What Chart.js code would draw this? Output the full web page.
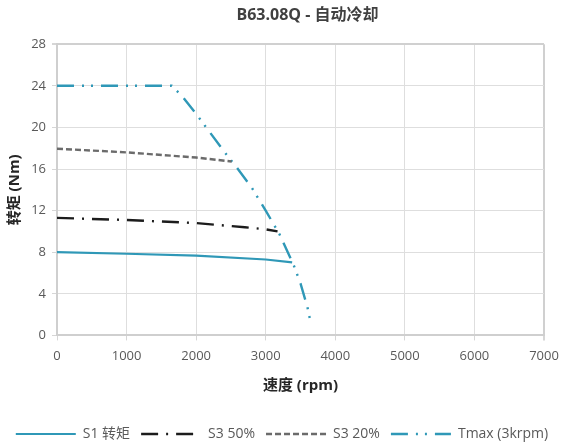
<!DOCTYPE html>
<html>
<head>
<meta charset="utf-8">
<script src="https://cdn.jsdelivr.net/npm/chart.js@4/dist/chart.umd.min.js"></script>
<style>
  html, body { margin: 0; padding: 0; background: #ffffff; }
  #wrap { width: 564px; height: 448px; }
</style>
</head>
<body>
<div id="wrap"><canvas id="c" width="564" height="448"></canvas></div>
<script>
// Speed (rpm) / torque (Nm) curves for the B63.08Q motor, self-cooled
const s1Speed    = [0, 1000, 2000, 3000, 3380];
const s1Torque   = [8.0, 7.85, 7.68, 7.3, 7.02];

const s350Speed  = [0, 1000, 2000, 2700, 3000, 3170];
const s350Torque = [11.3, 11.1, 10.8, 10.4, 10.2, 10.0];

const s320Speed  = [0, 1000, 2000, 2510];
const s320Torque = [17.95, 17.6, 17.1, 16.72];

const tmaxSpeed  = [0, 1000, 1650, 1800, 2000, 2200, 2400, 2600, 2800, 3000, 3200, 3400, 3500, 3600, 3650];
const tmaxTorque = [24, 24, 24, 23.0, 21.3, 19.5, 17.7, 16.0, 14.2, 12.0, 9.7, 6.8, 5.0, 2.7, 1.1];

const seriesNames = ['S1 转矩', 'S3 50%', 'S3 20%', 'Tmax (3krpm)'];
const xTicks = [0, 1000, 2000, 3000, 4000, 5000, 6000, 7000];
const yTicks = [0, 4, 8, 12, 16, 20, 24, 28];

const toPoints = (xs, ys) => xs.map((x, i) => ({ x: x, y: ys[i] }));

const FONT = '"Open Sans", "Noto Sans CJK SC", sans-serif';
const TEAL = '#2f98b7';

// Center the title over the plot area and sit the legend close to the bottom edge
const placeBlocks = {
  id: 'placeBlocks',
  afterLayout(chart) {
    const t = chart.titleBlock;
    if (t) { t.left = chart.chartArea.left; t.right = chart.chartArea.right + 14; }
    const l = chart.legend;
    if (l) { l.top += 3; l.bottom += 3; }
  }
};

new Chart(document.getElementById('c'), {
  type: 'line',
  data: {
    datasets: [
      { label: seriesNames[0], data: toPoints(s1Speed, s1Torque),
        borderColor: TEAL, backgroundColor: TEAL, borderWidth: 2.2, borderDash: [] },
      { label: seriesNames[1], data: toPoints(s350Speed, s350Torque),
        borderColor: '#1c1c1c', backgroundColor: '#1c1c1c', borderWidth: 2.4, borderDash: [17, 8, 2, 8] },
      { label: seriesNames[2], data: toPoints(s320Speed, s320Torque),
        borderColor: '#6b6b6b', backgroundColor: '#6b6b6b', borderWidth: 2.4, borderDash: [6, 3] },
      { label: seriesNames[3], data: toPoints(tmaxSpeed, tmaxTorque),
        borderColor: TEAL, backgroundColor: TEAL, borderWidth: 2.4, borderDash: [17, 8, 2, 7, 2, 8] }
    ]
  },
  options: {
    responsive: false,
    animation: false,
    devicePixelRatio: 1,
    layout: { padding: { left: 0, right: 0, top: 6, bottom: 0 } },
    elements: {
      point: { radius: 0, hoverRadius: 0 },
      line: { tension: 0, fill: false, borderCapStyle: 'butt' }
    },
    plugins: {
      title: {
        display: true,
        text: 'B63.08Q - 自动冷却',
        color: '#404040',
        font: { family: FONT, size: 16, weight: 'bold' },
        padding: { top: 0, bottom: 19 }
      },
      legend: {
        position: 'bottom',
        labels: {
          usePointStyle: true,
          pointStyle: 'line',
          pointStyleWidth: 60,
          boxHeight: 12,
          padding: 11,
          color: '#595959',
          font: { family: FONT, size: 14 },
          generateLabels(chart) {
            return chart.data.datasets.map((ds, i) => ({
              text: ds.label,
              datasetIndex: i,
              fillStyle: ds.borderColor,
              strokeStyle: ds.borderColor,
              lineWidth: ds.borderWidth,
              lineDash: ds.borderDash,
              lineCap: 'butt',
              pointStyle: 'line',
              fontColor: '#595959',
              hidden: false
            }));
          }
        }
      },
      tooltip: { enabled: false }
    },
    scales: {
      x: {
        type: 'linear',
        min: 0, max: 7000,
        afterBuildTicks(scale) { scale.ticks = xTicks.map(v => ({ value: v })); },
        afterFit(scale) { scale.paddingRight = 20; },
        ticks: { color: '#595959', font: { family: FONT, size: 13 }, padding: 8, maxRotation: 0,
                 callback: v => String(v) },
        grid: {
          color: ctx => (ctx.index === xTicks.length - 1 ? '#d0d0d0' : '#dedede'),
          lineWidth: ctx => (ctx.index === xTicks.length - 1 ? 2 : 1),
          tickLength: 5, tickColor: '#d6d6d6'
        },
        border: { color: '#cfcfcf', width: 2 },
        title: {
          display: true, text: '速度 (rpm)', color: '#262626',
          font: { family: FONT, size: 15, weight: 'bold' },
          padding: { top: 5, bottom: 18 }
        }
      },
      y: {
        type: 'linear',
        min: 0, max: 28,
        afterBuildTicks(scale) { scale.ticks = yTicks.map(v => ({ value: v })); },
        afterFit(scale) { scale.width = 57; },
        ticks: { color: '#595959', font: { family: FONT, size: 13 }, padding: 6,
                 callback: v => String(v) },
        grid: {
          color: ctx => (ctx.index === yTicks.length - 1 ? '#d0d0d0' : '#dedede'),
          lineWidth: ctx => (ctx.index === yTicks.length - 1 ? 2 : 1),
          tickLength: 5, tickColor: '#d6d6d6'
        },
        border: { color: '#cfcfcf', width: 2 },
        title: {
          display: true, text: '转矩 (Nm)', color: '#262626',
          font: { family: FONT, size: 15, weight: 'bold' },
          padding: { top: 6, bottom: 0 }
        }
      }
    }
  },
  plugins: [placeBlocks]
});
</script>
</body>
</html>
